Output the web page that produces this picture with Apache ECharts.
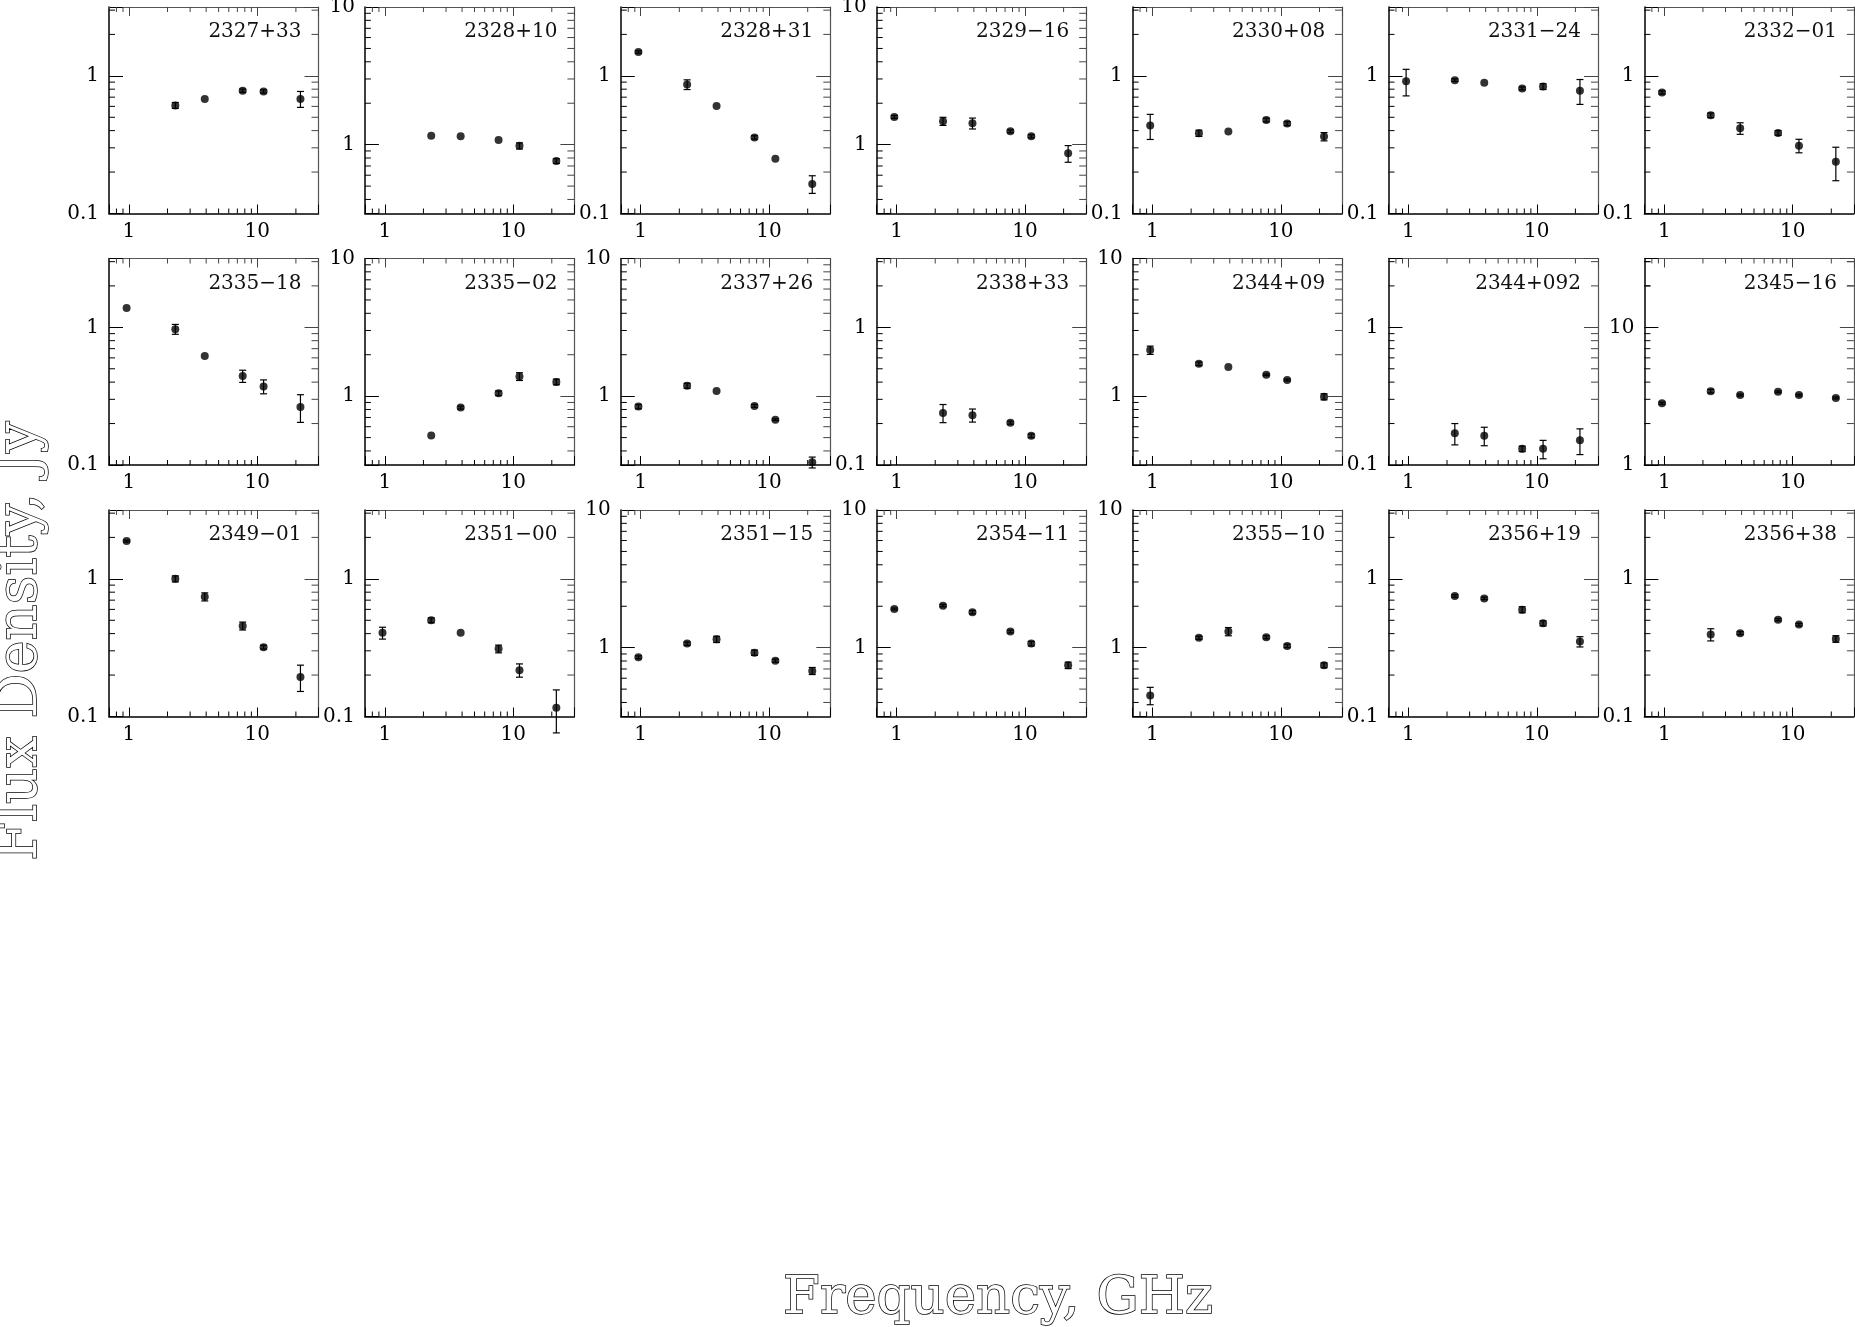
<!DOCTYPE html>
<html>
<head>
<meta charset="UTF-8">
<title>Radio spectra</title>
<script src="https://cdn.jsdelivr.net/npm/echarts@6/dist/echarts.min.js"></script>
<style>
  html, body { margin: 0; padding: 0; background: #fff; }
  #main { width: 1855px; height: 1327px; }
</style>
</head>
<body>
<div id="main"></div>
<script>
// observing frequencies, GHz
var freqs = [0.96, 2.3, 3.9, 7.7, 11.2, 21.7];

var sources = [
  '2327+33', '2328+10', '2328+31', '2329\u221216', '2330+08', '2331\u221224', '2332\u221201',
  '2335\u221218', '2335\u221202', '2337+26', '2338+33', '2344+09', '2344+092', '2345\u221216',
  '2349\u221201', '2351\u221200', '2351\u221215', '2354\u221211', '2355\u221210', '2356+19', '2356+38'
];

// flux density, Jy (null = no measurement)
var fluxes = [
  [null, 0.61, 0.68, 0.78, 0.77, 0.68],
  [null, 1.16, 1.15, 1.08, 0.98, 0.76],
  [1.49, 0.865, 0.605, 0.357, 0.25, 0.164],
  [1.59, 1.48, 1.43, 1.25, 1.15, 0.865],
  [0.435, 0.383, 0.394, 0.478, 0.45, 0.362],
  [0.915, 0.93, 0.89, 0.81, 0.836, 0.78],
  [0.757, 0.517, 0.416, 0.385, 0.311, 0.238],
  [1.38, 0.97, 0.62, 0.443, 0.372, 0.264],
  [null, 0.519, 0.826, 1.05, 1.39, 1.27],
  [0.84, 1.19, 1.09, 0.85, 0.675, 0.331],
  [null, 0.239, 0.23, 0.203, 0.163, null],
  [2.16, 1.72, 1.63, 1.43, 1.31, 0.99],
  [null, 0.17, 0.163, 0.131, 0.131, 0.151],
  [2.81, 3.44, 3.22, 3.40, 3.22, 3.07],
  [1.88, 1.0, 0.741, 0.455, 0.319, 0.194],
  [0.405, 0.5, 0.405, 0.31, 0.217, 0.116],
  [0.851, 1.07, 1.15, 0.92, 0.805, 0.678],
  [1.91, 2.02, 1.81, 1.31, 1.07, 0.745],
  [0.45, 1.18, 1.31, 1.19, 1.03, 0.745],
  [null, 0.75, 0.721, 0.597, 0.475, 0.35],
  [null, 0.394, 0.403, 0.505, 0.465, 0.366]
];

// +/- errors, Jy
var errors = [
  [null, 0.03, 0, 0.02, 0.02, 0.09],
  [null, 0, 0, 0, 0.05, 0.03],
  [0.03, 0.07, 0, 0.01, 0, 0.024],
  [0.04, 0.1, 0.13, 0.03, 0.03, 0.12],
  [0.09, 0.02, 0, 0.015, 0.015, 0.025],
  [0.2, 0.02, 0, 0.02, 0.04, 0.16],
  [0.02, 0.02, 0.04, 0.015, 0.035, 0.065],
  [0, 0.08, 0, 0.045, 0.043, 0.06],
  [null, 0, 0.02, 0.04, 0.09, 0.06],
  [0.03, 0.05, 0, 0.02, 0.01, 0.03],
  [null, 0.036, 0.025, 0.005, 0.005, null],
  [0.15, 0.05, 0, 0.02, 0.02, 0.05],
  [null, 0.03, 0.025, 0.006, 0.02, 0.032],
  [0.05, 0.1, 0.05, 0.05, 0.05, 0.05],
  [0.03, 0.05, 0.05, 0.03, 0.01, 0.042],
  [0.04, 0.02, 0, 0.02, 0.024, 0.04],
  [0.02, 0.03, 0.06, 0.04, 0.02, 0.04],
  [0.03, 0.04, 0.05, 0.03, 0.04, 0.04],
  [0.065, 0.03, 0.09, 0.03, 0.03, 0.03],
  [null, 0.015, 0.015, 0.03, 0.02, 0.03],
  [null, 0.04, 0.01, 0.01, 0.01, 0.02]
];

// log10 of the lower y limit of each panel (each spans 1.5 decades)
var yFloor = [
  -1, -0.5, -1, -0.5, -1, -1, -1,
  -1, -0.5, -0.5, -1, -0.5, -1, 0,
  -1, -1, -0.5, -0.5, -0.5, -1, -1
];

var xRange = [0.7, 30];
var minorCandidates = [0.2, 0.3, 0.4, 0.5, 0.6, 0.7, 0.8, 0.9, 2, 3, 4, 5, 6, 7, 8, 9, 20, 30];

var FONT = 'DejaVu Serif';

function decadeLabel(v) {
  var e = Math.round(Math.log10(v));
  if (Math.abs(Math.log10(v) - e) > 1e-6) return '';
  return e < 0 ? '0.1' : String(Math.pow(10, e));
}

var chart = echarts.init(document.getElementById('main'));
var grids = [], xAxes = [], yAxes = [], series = [], titles = [];

sources.forEach(function (name, i) {
  var col = i % 7, row = Math.floor(i / 7);
  var left = 109 + col * 255.9, top = 7 + row * 251.5;
  var w = 209.5, h = 206.5;
  var ymin = Math.pow(10, yFloor[i]), ymax = Math.pow(10, yFloor[i] + 1.5);

  grids.push({ left: left, top: top, width: w, height: h, outerBoundsMode: 'none' });

  var xBase = {
    type: 'log', gridIndex: i, min: xRange[0], max: xRange[1],
    splitLine: { show: false }
  };
  xAxes.push(Object.assign({}, xBase, {
    position: 'bottom',
    axisLine: { show: true, onZero: false, lineStyle: { color: '#000', width: 1.5 } },
    axisTick: { show: true, inside: true, length: 9, lineStyle: { color: '#000', width: 1 } },
    axisLabel: { formatter: decadeLabel, color: '#000', fontFamily: FONT, fontSize: 20, margin: 8 }
  }));
  xAxes.push(Object.assign({}, xBase, {
    position: 'top',
    axisLine: { show: true, onZero: false, lineStyle: { color: '#555', width: 1.2 } },
    axisTick: { show: true, inside: true, length: 9, lineStyle: { color: '#444', width: 1 } },
    axisLabel: { show: false }
  }));

  var yBase = {
    type: 'log', gridIndex: i, min: ymin, max: ymax,
    splitLine: { show: false }
  };
  yAxes.push(Object.assign({}, yBase, {
    position: 'left',
    axisLine: { show: true, onZero: false, lineStyle: { color: '#000', width: 1.5 } },
    axisTick: { show: true, inside: true, length: 14, lineStyle: { color: '#000', width: 1 } },
    axisLabel: { formatter: decadeLabel, color: '#000', fontFamily: FONT, fontSize: 20, margin: 10 }
  }));
  yAxes.push(Object.assign({}, yBase, {
    position: 'right',
    axisLine: { show: true, onZero: false, lineStyle: { color: '#555', width: 1.2 } },
    axisTick: { show: true, inside: true, length: 14, lineStyle: { color: '#444', width: 1 } },
    axisLabel: { show: false }
  }));

  // minor ticks (2..9 of every decade) on all four sides
  var tickData = [];
  minorCandidates.forEach(function (v) {
    if (v > xRange[0] + 1e-9 && v < xRange[1] - 1e-9) tickData.push([v, ymin, 0]);
    if (v > ymin * 1.0001 && v < ymax * 0.9999) tickData.push([xRange[0], v, 1]);
    if (v * 10 > ymin * 1.0001 && v * 10 < ymax * 0.9999 && v >= 2 && v < 10) tickData.push([xRange[0], v * 10, 1]);
  });
  series.push({
    type: 'custom', xAxisIndex: 2 * i, yAxisIndex: 2 * i, silent: true, z: 1,
    data: tickData,
    renderItem: function (params, api) {
      var a = api.value(0), b = api.value(1), kind = api.value(2);
      var p, q;
      if (kind === 0) {
        p = api.coord([a, ymin]); q = api.coord([a, ymax]);
        return { type: 'group', children: [
          { type: 'line', shape: { x1: p[0], y1: p[1], x2: p[0], y2: p[1] - 5 }, style: { stroke: '#000', lineWidth: 1 } },
          { type: 'line', shape: { x1: q[0], y1: q[1], x2: q[0], y2: q[1] + 5 }, style: { stroke: '#444', lineWidth: 1 } }
        ] };
      }
      p = api.coord([xRange[0], b]); q = api.coord([xRange[1], b]);
      return { type: 'group', children: [
        { type: 'line', shape: { x1: p[0], y1: p[1], x2: p[0] + 6, y2: p[1] }, style: { stroke: '#000', lineWidth: 1 } },
        { type: 'line', shape: { x1: q[0], y1: q[1], x2: q[0] - 7, y2: q[1] }, style: { stroke: '#444', lineWidth: 1 } }
      ] };
    }
  });

  // points and error bars
  var pts = [], bars = [];
  freqs.forEach(function (f, k) {
    var s = fluxes[i][k];
    if (s == null) return;
    pts.push([f, s]);
    var e = errors[i][k];
    if (e) bars.push([f, s - e, s + e]);
  });
  series.push({
    type: 'custom', xAxisIndex: 2 * i, yAxisIndex: 2 * i, silent: true, z: 2,
    data: bars,
    renderItem: function (params, api) {
      var lo = api.coord([api.value(0), api.value(1)]);
      var hi = api.coord([api.value(0), api.value(2)]);
      var c = 3.5;
      return { type: 'group', children: [
        { type: 'line', shape: { x1: lo[0], y1: lo[1], x2: hi[0], y2: hi[1] }, style: { stroke: '#000', lineWidth: 1.2 } },
        { type: 'line', shape: { x1: lo[0] - c, y1: lo[1], x2: lo[0] + c, y2: lo[1] }, style: { stroke: '#000', lineWidth: 1.2 } },
        { type: 'line', shape: { x1: hi[0] - c, y1: hi[1], x2: hi[0] + c, y2: hi[1] }, style: { stroke: '#000', lineWidth: 1.2 } }
      ] };
    }
  });
  series.push({
    type: 'scatter', xAxisIndex: 2 * i, yAxisIndex: 2 * i, z: 3,
    symbol: 'circle', symbolSize: 8, itemStyle: { color: '#000' },
    data: pts
  });

  titles.push({
    text: name, right: 1855 - (left + w) + 17, top: top + 15, padding: 0,
    textStyle: { fontFamily: FONT, fontSize: 20, fontWeight: 'normal', color: '#111' }
  });
});

var option = {
  animation: false,
  backgroundColor: '#fff',
  title: titles,
  grid: grids,
  xAxis: xAxes,
  yAxis: yAxes,
  series: series,
  graphic: [
    {
      type: 'text', x: 21, y: 641, rotation: Math.PI / 2,
      style: {
        text: 'Flux Density, Jy', font: '56px "DejaVu Serif"',
        fill: '#fff', stroke: '#000', lineWidth: 1.5,
        textAlign: 'center', textVerticalAlign: 'middle'
      }
    },
    {
      type: 'text', x: 998, y: 1299,
      style: {
        text: 'Frequency, GHz', font: '53px "DejaVu Serif"',
        fill: '#fff', stroke: '#000', lineWidth: 1.5,
        textAlign: 'center', textVerticalAlign: 'middle'
      }
    }
  ]
};

chart.setOption(option);
</script>
</body>
</html>
